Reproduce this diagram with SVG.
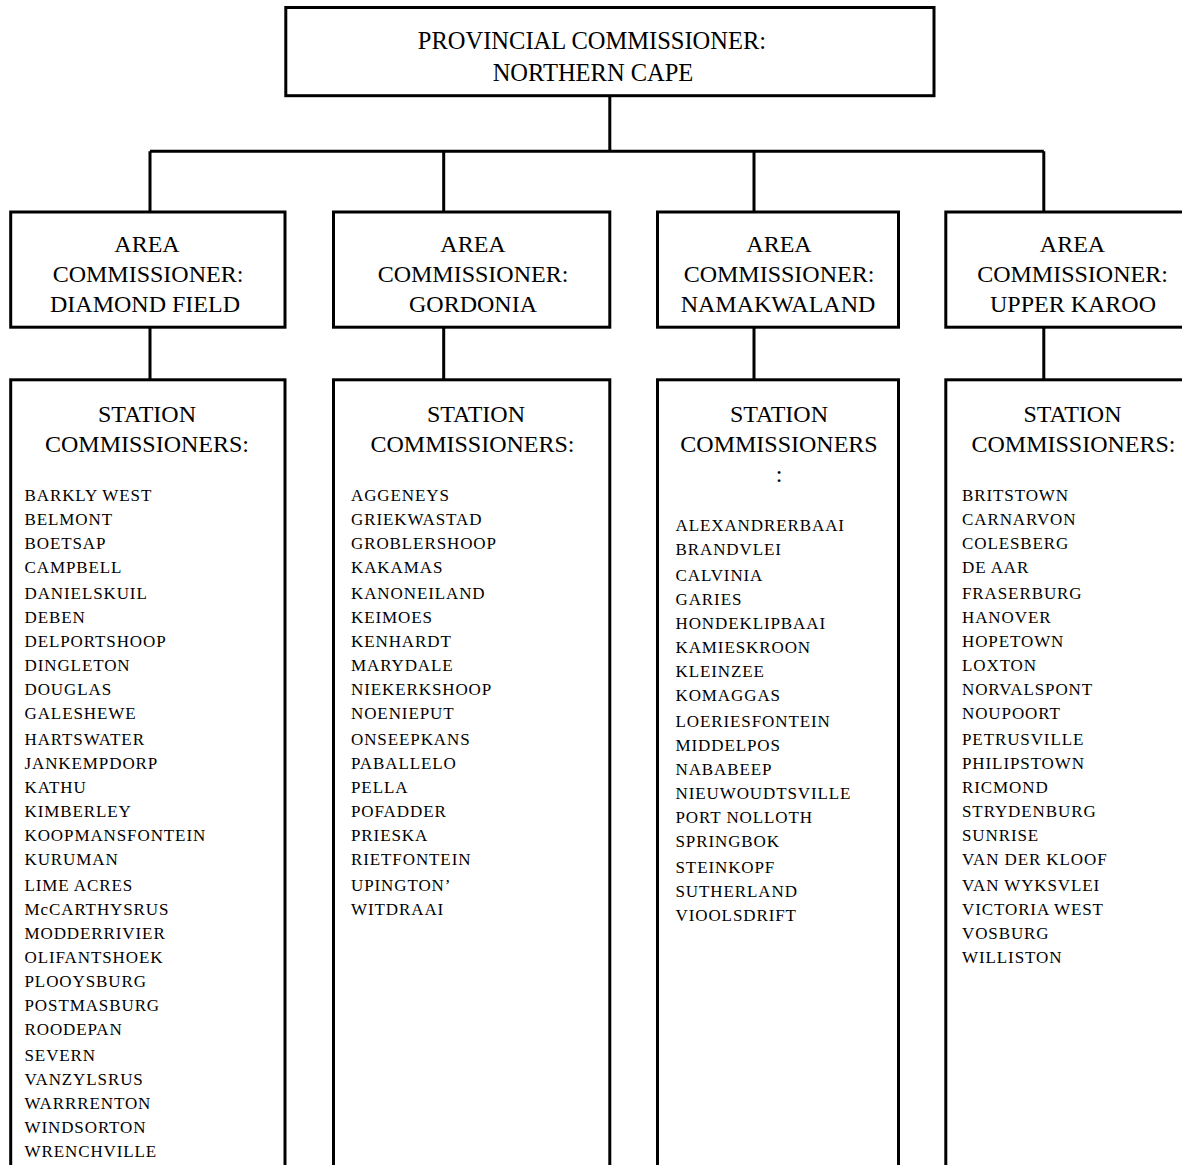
<svg xmlns="http://www.w3.org/2000/svg" width="1182" height="1165" viewBox="0 0 1182 1165">
<style>
  .box { fill: #ffffff; stroke: #000000; stroke-width: 3; }
  .conn { fill: none; stroke: #000000; stroke-width: 3; }
  .hd { font-family: "Liberation Serif", "Times New Roman", serif; font-size: 24px; fill: #000000; text-anchor: middle; }
  .top { font-size: 24.5px; }
  .li { font-family: "Liberation Serif", "Times New Roman", serif; font-size: 17px; letter-spacing: 0.9px; fill: #000000; }
</style>
<rect x="0" y="0" width="1182" height="1165" fill="#ffffff"/>

<g id="connectors">
  <path class="conn" d="M609.8,95.7 V151.2 M150,151.2 H1043.8 M150,151.2 V212 M443.7,151.2 V212 M754,151.2 V212 M1043.8,151.2 V212 M150,327.2 V379.8 M443.7,327.2 V379.8 M754,327.2 V379.8 M1043.8,327.2 V379.8"/>
</g>

<g id="provincial">
  <rect class="box" x="285.8" y="7.5" width="648.2" height="88.2"/>
  <text class="hd top" x="592" y="49">PROVINCIAL COMMISSIONER:</text>
  <text class="hd top" x="593" y="81">NORTHERN CAPE</text>
</g>

<g id="area-diamond-field">
  <rect class="box" x="10.7" y="212" width="274.3" height="115.2"/>
  <text class="hd" x="147" y="251.7">AREA</text>
  <text class="hd" x="148" y="281.7">COMMISSIONER:</text>
  <text class="hd" x="145" y="311.7">DIAMOND FIELD</text>
</g>
<g id="area-gordonia">
  <rect class="box" x="333.5" y="212" width="276.3" height="115.2"/>
  <text class="hd" x="473" y="251.7">AREA</text>
  <text class="hd" x="473" y="281.7">COMMISSIONER:</text>
  <text class="hd" x="473" y="311.7">GORDONIA</text>
</g>
<g id="area-namakwaland">
  <rect class="box" x="657.5" y="212" width="241" height="115.2"/>
  <text class="hd" x="779" y="251.7">AREA</text>
  <text class="hd" x="779" y="281.7">COMMISSIONER:</text>
  <text class="hd" x="778" y="311.7">NAMAKWALAND</text>
</g>
<g id="area-upper-karoo">
  <rect class="box" x="945.8" y="212" width="260" height="115.2"/>
  <text class="hd" x="1072.5" y="251.7">AREA</text>
  <text class="hd" x="1072.5" y="281.7">COMMISSIONER:</text>
  <text class="hd" x="1073" y="311.7">UPPER KAROO</text>
</g>

<g id="stations-diamond-field">
  <rect class="box" x="10.7" y="379.8" width="274.3" height="800"/>
  <text class="hd" x="147" y="421.5">STATION</text>
  <text class="hd" x="147" y="452">COMMISSIONERS:</text>
  <text class="li" x="24.5" y="501">BARKLY WEST</text>
  <text class="li" x="24.5" y="525">BELMONT</text>
  <text class="li" x="24.5" y="549">BOETSAP</text>
  <text class="li" x="24.5" y="573">CAMPBELL</text>
  <text class="li" x="24.5" y="599">DANIELSKUIL</text>
  <text class="li" x="24.5" y="623">DEBEN</text>
  <text class="li" x="24.5" y="647">DELPORTSHOOP</text>
  <text class="li" x="24.5" y="671">DINGLETON</text>
  <text class="li" x="24.5" y="695">DOUGLAS</text>
  <text class="li" x="24.5" y="719">GALESHEWE</text>
  <text class="li" x="24.5" y="745">HARTSWATER</text>
  <text class="li" x="24.5" y="769">JANKEMPDORP</text>
  <text class="li" x="24.5" y="793">KATHU</text>
  <text class="li" x="24.5" y="817">KIMBERLEY</text>
  <text class="li" x="24.5" y="841">KOOPMANSFONTEIN</text>
  <text class="li" x="24.5" y="865">KURUMAN</text>
  <text class="li" x="24.5" y="891">LIME ACRES</text>
  <text class="li" x="24.5" y="915">McCARTHYSRUS</text>
  <text class="li" x="24.5" y="939">MODDERRIVIER</text>
  <text class="li" x="24.5" y="963">OLIFANTSHOEK</text>
  <text class="li" x="24.5" y="987">PLOOYSBURG</text>
  <text class="li" x="24.5" y="1011">POSTMASBURG</text>
  <text class="li" x="24.5" y="1035">ROODEPAN</text>
  <text class="li" x="24.5" y="1061">SEVERN</text>
  <text class="li" x="24.5" y="1085">VANZYLSRUS</text>
  <text class="li" x="24.5" y="1109">WARRRENTON</text>
  <text class="li" x="24.5" y="1133">WINDSORTON</text>
  <text class="li" x="24.5" y="1157">WRENCHVILLE</text>
</g>

<g id="stations-gordonia">
  <rect class="box" x="333.5" y="379.8" width="276.3" height="800"/>
  <text class="hd" x="476" y="421.5">STATION</text>
  <text class="hd" x="472.5" y="452">COMMISSIONERS:</text>
  <text class="li" x="351" y="501">AGGENEYS</text>
  <text class="li" x="351" y="525">GRIEKWASTAD</text>
  <text class="li" x="351" y="549">GROBLERSHOOP</text>
  <text class="li" x="351" y="573">KAKAMAS</text>
  <text class="li" x="351" y="599">KANONEILAND</text>
  <text class="li" x="351" y="623">KEIMOES</text>
  <text class="li" x="351" y="647">KENHARDT</text>
  <text class="li" x="351" y="671">MARYDALE</text>
  <text class="li" x="351" y="695">NIEKERKSHOOP</text>
  <text class="li" x="351" y="719">NOENIEPUT</text>
  <text class="li" x="351" y="745">ONSEEPKANS</text>
  <text class="li" x="351" y="769">PABALLELO</text>
  <text class="li" x="351" y="793">PELLA</text>
  <text class="li" x="351" y="817">POFADDER</text>
  <text class="li" x="351" y="841">PRIESKA</text>
  <text class="li" x="351" y="865">RIETFONTEIN</text>
  <text class="li" x="351" y="891">UPINGTON’</text>
  <text class="li" x="351" y="915">WITDRAAI</text>
</g>

<g id="stations-namakwaland">
  <rect class="box" x="657.5" y="379.8" width="241" height="800"/>
  <text class="hd" x="779" y="421.5">STATION</text>
  <text class="hd" x="779" y="452">COMMISSIONERS</text>
  <text class="hd" x="779" y="482">:</text>
  <text class="li" x="675.5" y="531">ALEXANDRERBAAI</text>
  <text class="li" x="675.5" y="555">BRANDVLEI</text>
  <text class="li" x="675.5" y="581">CALVINIA</text>
  <text class="li" x="675.5" y="605">GARIES</text>
  <text class="li" x="675.5" y="629">HONDEKLIPBAAI</text>
  <text class="li" x="675.5" y="653">KAMIESKROON</text>
  <text class="li" x="675.5" y="677">KLEINZEE</text>
  <text class="li" x="675.5" y="701">KOMAGGAS</text>
  <text class="li" x="675.5" y="727">LOERIESFONTEIN</text>
  <text class="li" x="675.5" y="751">MIDDELPOS</text>
  <text class="li" x="675.5" y="775">NABABEEP</text>
  <text class="li" x="675.5" y="799">NIEUWOUDTSVILLE</text>
  <text class="li" x="675.5" y="823">PORT NOLLOTH</text>
  <text class="li" x="675.5" y="847">SPRINGBOK</text>
  <text class="li" x="675.5" y="873">STEINKOPF</text>
  <text class="li" x="675.5" y="897">SUTHERLAND</text>
  <text class="li" x="675.5" y="921">VIOOLSDRIFT</text>
</g>

<g id="stations-upper-karoo">
  <rect class="box" x="945.8" y="379.8" width="260" height="800"/>
  <text class="hd" x="1072.5" y="421.5">STATION</text>
  <text class="hd" x="1073.5" y="452">COMMISSIONERS:</text>
  <text class="li" x="962" y="501">BRITSTOWN</text>
  <text class="li" x="962" y="525">CARNARVON</text>
  <text class="li" x="962" y="549">COLESBERG</text>
  <text class="li" x="962" y="573">DE AAR</text>
  <text class="li" x="962" y="599">FRASERBURG</text>
  <text class="li" x="962" y="623">HANOVER</text>
  <text class="li" x="962" y="647">HOPETOWN</text>
  <text class="li" x="962" y="671">LOXTON</text>
  <text class="li" x="962" y="695">NORVALSPONT</text>
  <text class="li" x="962" y="719">NOUPOORT</text>
  <text class="li" x="962" y="745">PETRUSVILLE</text>
  <text class="li" x="962" y="769">PHILIPSTOWN</text>
  <text class="li" x="962" y="793">RICMOND</text>
  <text class="li" x="962" y="817">STRYDENBURG</text>
  <text class="li" x="962" y="841">SUNRISE</text>
  <text class="li" x="962" y="865">VAN DER KLOOF</text>
  <text class="li" x="962" y="891">VAN WYKSVLEI</text>
  <text class="li" x="962" y="915">VICTORIA WEST</text>
  <text class="li" x="962" y="939">VOSBURG</text>
  <text class="li" x="962" y="963">WILLISTON</text>
</g>
</svg>
